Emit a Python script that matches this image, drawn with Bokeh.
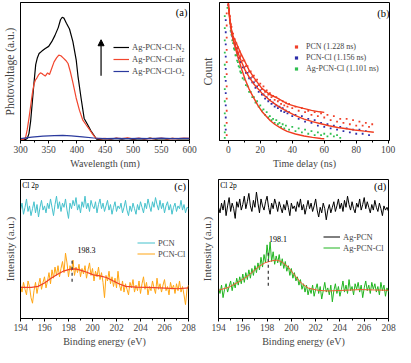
import numpy as np
from bokeh.plotting import figure
from bokeh.layouts import row, column
from bokeh.models import Range1d, Legend, LegendItem, Label, Arrow, NormalHead, FixedTicker
from bokeh.embed import file_html
from bokeh.resources import INLINE

FONT = "Liberation Serif"

# ---------------- panel (a): photovoltage spectra ----------------
a_wl_n2 = [300, 305, 309, 312, 315, 318, 321, 324, 327, 330, 333, 338, 344, 350, 355.5, 361, 367, 371, 374, 377,
           381.5, 387, 393, 399, 402, 407.5, 413, 419, 425, 430.7, 435, 440, 450, 460, 470, 480, 490, 500, 510, 520,
           530, 540, 550, 560, 570, 580, 590, 600]
a_pv_n2 = [0.6, 0.6, 0.8, 1.5, 5, 14, 28, 42, 55, 60, 63, 64.8, 66.7, 68.2, 71.6, 76, 81.8, 87.5, 89.3, 88.7,
           85, 80.8, 71.6, 58, 46.7, 30.8, 16, 11.6, 7, 3.6, 0.9, 0.8, 1.3, 0.9, 1.5, 1.0, 1.6, 0.8, 1.4, 1.0,
           1.7, 0.9, 1.3, 1.0, 1.5, 1.1, 1.4, 1.2]
a_wl_air = [300, 305, 309, 312, 315, 318, 321, 324, 326.7, 329.5, 332, 335.4, 338, 340, 344, 348, 351.5, 355.5, 359.6,
            364, 368, 371.7, 375.7, 380.4, 384.4, 388.4, 393, 398.8, 404.7, 410.4, 416, 422, 427.7, 433.4, 440, 450,
            460, 470, 480, 490, 500, 510, 520, 530, 540, 550, 560, 570, 580, 590, 600]
a_pv_air = [0.8, 0.8, 2, 8, 16, 25, 34, 41, 44, 45.6, 47.5, 49, 48.5, 47.8, 46.7, 49, 47.8, 52.4, 57,
            59.9, 61.9, 61.4, 59.9, 58, 55.8, 50, 42, 30.8, 21.8, 15, 11.6, 8.2, 4.8, 1.8, 1.2, 1.6,
            1.1, 1.8, 1.3, 1.9, 1.2, 1.7, 1.1, 1.6, 1.3, 1.8, 1.2, 1.6, 1.4, 1.8, 1.5]
a_wl_o2 = [300, 320, 340, 360, 375, 390, 410, 430, 450, 470, 490, 510, 530, 550, 570, 590, 600]
a_pv_o2 = [1.4, 2.5, 3.2, 3.6, 3.7, 3.4, 2.6, 1.8, 1.4, 1.6, 1.3, 1.6, 1.4, 1.7, 1.4, 1.6, 1.5]
a_labels = ["Ag-PCN-Cl-N\u2082", "Ag-PCN-Cl-air", "Ag-PCN-Cl-O\u2082"]
a_xticks = [300, 350, 400, 450, 500, 550, 600]
a_xminor = [325, 375, 425, 475, 525, 575]

# ---------------- panel (b): PL decay ----------------
b_t_pcn = [-1.0, -1.0, -1.0, -1.0, -1.0, -1.0, -1.0, -1.0, -1.0, -1.0, -1.0, 0,
           0.5, 1, 1.5, 2, 2.5, 3, 3.5, 4, 4.5, 5, 5.5, 6, 6.5, 7, 7.5, 8, 9, 10, 11, 12, 13, 14, 15, 16, 17, 18,
           19, 20, 21, 22, 23, 24, 25, 26, 27, 28, 29, 30, 31, 32, 33, 34, 35, 36, 37, 38, 40, 42, 44, 46, 48, 50,
           52, 54, 56, 58, 60, 62, 64, 66, 68, 70, 72, 74, 76, 78, 80, 82, 84, 86, 88, 90]
b_c_pcn = [3, 12, 21, 30, 39, 48, 57, 66, 75, 84, 93, 100,
           96, 91, 85, 83, 78, 78, 74, 74, 70, 71, 67, 68, 64, 65, 61, 62, 58, 58, 54, 54, 50, 50, 46, 47, 43, 44,
           40, 41, 37, 39, 35, 36, 33, 34, 31, 32, 29, 31, 28, 29, 26, 28, 25, 27, 24, 26, 23, 24, 21, 23, 20, 21,
           18, 20, 17, 19, 16, 18, 14, 17, 13, 15, 12, 15, 11, 14, 10, 13, 10, 12, 9, 11]
b_t_cl = [-1.6, -1.6, -1.6, -1.6, -1.6, -1.6, -1.6, -1.6, -1.6, -1.6, 0,
          0.5, 1, 1.5, 2, 2.5, 3, 3.5, 4, 4.5, 5, 5.5, 6, 6.5, 7, 7.5, 8, 9, 10, 11, 12, 13, 14, 15, 16, 17, 18,
          19, 20, 21, 22, 23, 24, 25, 26, 27, 28, 29, 30, 31, 32, 33, 34, 35, 36, 37, 38, 40, 42, 44, 46, 48, 50,
          52, 54, 56, 58, 60, 62, 64, 66, 68, 70, 72, 74, 76, 78, 80, 82, 84, 86, 88]
b_c_cl = [7, 16, 25, 34, 43, 52, 61, 70, 79, 88, 99,
          95, 88, 83, 79, 76, 74, 71, 70, 67, 67, 64, 63, 60, 60, 57, 57, 53, 53, 49, 49, 45, 45, 42, 42, 38, 39,
          35, 36, 33, 33, 30, 31, 28, 29, 26, 27, 24, 25, 23, 24, 21, 23, 20, 21, 19, 20, 17, 18, 15, 17, 13, 15,
          12, 14, 10, 12, 9, 11, 8, 10, 7, 9, 6, 8, 5, 7, 4, 7, 4, 6, 3]
b_t_ag = [-2.2, -2.2, -2.2, -2.2, -2.2, -2.2, -2.2, -2.2, -2.2, -2.2, -2.2, -2.2, -0.5,
          0.5, 1, 1.5, 2, 2.5, 3, 3.5, 4, 4.5, 5, 5.5, 6, 6.5, 7, 7.5, 8, 9, 10, 11, 12, 13, 14, 15, 16, 17, 18,
          19, 20, 21, 22, 23, 24, 25, 26, 27, 28, 29, 30, 31, 32, 33, 34, 35, 36, 38, 40, 42, 44, 46, 48, 50, 52,
          54, 56, 58, 60, 62, 64, 66, 68, 70]
b_c_ag = [1, 5, 10, 19, 28, 37, 46, 55, 64, 73, 82, 91, 97,
          93, 86, 80, 77, 73, 71, 67, 66, 62, 62, 58, 57, 54, 53, 50, 49, 45, 44, 40, 39, 35, 35, 31, 31, 27, 28,
          24, 25, 21, 22, 18, 20, 16, 17, 14, 15, 12, 14, 11, 12, 9, 11, 8, 10, 7, 9, 6, 8, 5, 7, 4, 6,
          3, 5, 3, 4, 2, 4, 2, 3, 1]
b_fit_pcn_t = [0, 1, 2, 3, 5, 8, 10.5, 13, 16, 21, 26, 32, 37, 42, 47, 52, 57, 60]
b_fit_pcn_c = [100, 89, 81, 76, 71, 63, 57, 51, 45.5, 37.5, 33, 29.5, 26.1, 24.2, 22.7, 21.3, 20.2, 19.8]
b_fit_cl_t = [0, 1, 2, 3, 5.3, 8, 10.5, 13, 15.8, 21, 26.3, 31.5, 36.8, 42, 47.4, 52.6, 57.9, 63, 68.4, 74, 79, 85, 91]
b_fit_cl_c = [100, 87, 79, 74, 66, 58, 51, 46, 41, 34, 28.4, 24, 20.5, 17.4, 14.8, 13, 11.4, 9.9, 8.6, 7.7, 6.8, 5.9, 5.1]
b_fit_ag_t = [0, 1, 2.1, 3.5, 5.3, 8, 10.5, 13, 15.8, 18.5, 21, 24, 26.3, 29, 31.6, 34, 36.8, 42, 47.4, 52.6, 57.9, 60]
b_fit_ag_c = [100, 88, 79.5, 71, 63.6, 53, 44.3, 37, 30.7, 25, 20.5, 16.5, 13.6, 11, 9.1, 7.4, 5.7, 3.8, 2.3, 1.3, 0.5, 0.3]
b_labels = ["PCN (1.228 ns)", "PCN-Cl (1.156 ns)", "Ag-PCN-Cl (1.101 ns)"]
b_xticks = [0, 20, 40, 60, 80, 100]
b_xminor = [10, 30, 50, 70, 90]

# ---------------- panel (c): Cl 2p XPS, PCN / PCN-Cl ----------------
c_pcn = [78, 83, 75, 80, 86, 77, 81, 74, 79, 84, 76, 82, 73, 80, 85, 78, 81, 76, 83, 79, 86, 80, 74, 82, 88, 79,
         84, 77, 83, 80, 86, 78, 72, 83, 79, 85, 81, 87, 78, 82, 76, 84, 80, 88, 79, 83, 77, 85, 81, 79, 84, 76,
         82, 86, 79, 83, 77, 81, 85, 78, 82, 75, 80, 84, 77, 81, 79, 83, 76, 80, 85, 78, 74, 81, 77, 83, 79, 75,
         82, 78, 84, 80, 76, 83, 79, 86, 81, 77, 84, 80, 87, 82, 78, 85, 79, 83, 76, 81, 84, 78, 82, 75, 80, 83,
         77, 81, 79, 85, 78, 82, 76, 80, 79]
c_pcncl = [24, 19, 26, 21, 17, 27, 23, 15, 11, 20, 26, 18, 24, 29, 21, 26, 30, 22, 27, 33, 25, 35, 29, 37, 31,
           38, 30, 36, 41, 33, 47, 40, 30, 38, 34, 42, 31, 37, 33, 39, 30, 36, 32, 38, 29, 35, 40, 31, 36, 27,
           34, 30, 37, 28, 33, 26, 15, 31, 27, 34, 25, 30, 23, 29, 22, 34, 24, 20, 27, 19, 25, 21, 17, 26, 22,
           28, 19, 24, 20, 27, 18, 25, 30, 21, 26, 17, 23, 20, 27, 22, 18, 29, 21, 25, 19, 24, 28, 20, 23, 17,
           26, 21, 24, 18, 25, 20, 27, 19, 23, 17, 10, 21, 24]
c_fit_e = [194, 194.92, 195.46, 196, 196.55, 197.09, 197.63, 198.17, 198.58, 198.99, 199.53, 200.07, 200.61,
           201.15, 201.7, 202.24, 202.78, 203.6, 204.68, 206.03, 207.1, 208]
c_fit_v = [22.4, 22.4, 23.1, 25.5, 29, 31.9, 34.3, 35.5, 35.7, 34.8, 33.3, 31.4, 30.7, 29.5, 27.1, 24.8, 23.1,
           22.6, 22.4, 21.9, 21.4, 22]
c_peak = 198.3
c_labels = ["PCN", "PCN-Cl"]

# ---------------- panel (d): Cl 2p XPS, Ag-PCN / Ag-PCN-Cl ----------------
d_agpcn = [80, 76, 83, 78, 85, 74, 81, 87, 77, 83, 79, 72, 84, 80, 86, 78, 82, 88, 79, 84, 90, 81, 77, 85, 80,
           91, 83, 76, 86, 81, 78, 84, 88, 80, 75, 83, 79, 86, 82, 77, 84, 80, 76, 82, 78, 85, 80, 74, 83, 79,
           81, 77, 84, 80, 86, 78, 82, 75, 80, 85, 79, 83, 77, 81, 86, 78, 73, 80, 76, 83, 79, 71, 78, 82, 76,
           80, 84, 77, 81, 86, 79, 83, 77, 85, 80, 88, 82, 78, 84, 79, 76, 83, 80, 86, 78, 82, 87, 79, 84, 80,
           76, 82, 78, 85, 80, 77, 83, 79, 74, 81, 78, 80, 77]
d_agpcncl = [22, 18, 24, 15, 21, 25, 19, 23, 27, 20, 26, 22, 29, 24, 30, 25, 32, 26, 33, 28, 35, 29, 36, 31,
             38, 33, 40, 35, 44, 37, 46, 40, 53, 43, 55, 41, 48, 39, 45, 40, 46, 38, 43, 36, 41, 34, 38, 31,
             36, 29, 33, 27, 30, 24, 28, 21, 25, 19, 24, 17, 22, 18, 24, 16, 21, 25, 18, 23, 14, 20, 26, 19,
             22, 17, 24, 12, 20, 25, 18, 23, 16, 21, 27, 19, 24, 18, 28, 20, 23, 17, 25, 21, 26, 19, 24, 15,
             22, 27, 20, 24, 18, 26, 21, 25, 19, 23, 17, 26, 20, 24, 16, 22, 19]
d_fit_e = [194.0, 194.82, 195.64, 196.46, 197.28, 197.83, 198.38, 198.78, 199.19, 199.74, 200.29, 200.83, 201.38,
           202.2, 203.02, 204.39, 205.75, 206.85, 208.0]
d_fit_v = [20.3, 22.4, 26.2, 30.9, 37.1, 40.1, 41.5, 42, 40.9, 37.1, 30.9, 25.4, 21.9, 20.3, 19.8, 20.3, 20.8,
           20.5, 20.3]
d_peak = 198.1
d_labels = ["Ag-PCN", "Ag-PCN-Cl"]
cd_xticks = [194, 196, 198, 200, 202, 204, 206, 208]
cd_xminor = [195, 197, 199, 201, 203, 205, 207]


def make_fig(fw, fh, xr, yr, bl, bt, xticks, xminor, xlabel, ylabel, ysize, ystand):
    p = figure(frame_width=fw, frame_height=fh, x_range=Range1d(*xr), y_range=Range1d(*yr),
               output_backend="svg", toolbar_location=None,
               min_border_left=bl, min_border_right=8, min_border_top=bt, min_border_bottom=30)
    p.grid.visible = False
    p.outline_line_color = "black"
    p.outline_line_width = 1
    p.outline_line_alpha = 1
    p.background_fill_color = "white"
    p.border_fill_color = "white"
    xa = p.xaxis[0]
    xa.ticker = FixedTicker(ticks=xticks, minor_ticks=xminor)
    xa.axis_label = xlabel
    xa.axis_label_text_font = FONT
    xa.axis_label_text_font_size = "10px"
    xa.axis_label_text_font_style = "normal"
    xa.axis_label_standoff = 2
    xa.major_label_text_font = FONT
    xa.major_label_text_font_size = "9.5px"
    xa.major_label_standoff = 2
    xa.major_tick_in = 0
    xa.major_tick_out = 3
    xa.minor_tick_in = 0
    xa.minor_tick_out = 2
    xa.axis_line_color = "black"
    xa.major_tick_line_color = "black"
    xa.minor_tick_line_color = "black"
    ya = p.yaxis[0]
    ya.ticker = FixedTicker(ticks=[], minor_ticks=[])
    ya.major_tick_out = 0
    ya.major_tick_in = 0
    ya.minor_tick_out = 0
    ya.minor_tick_in = 0
    ya.major_tick_line_color = None
    ya.minor_tick_line_color = None
    ya.axis_label = ylabel
    ya.axis_label_text_font = FONT
    ya.axis_label_text_font_size = ysize
    ya.axis_label_text_font_style = "normal"
    ya.axis_label_standoff = ystand
    ya.axis_line_color = "black"
    return p


def add_legend(p, items, x, top, fh, row_h, gw, standoff, fsize):
    n = len(items)
    leg = Legend(items=[LegendItem(label=l, renderers=[r]) for l, r in items],
                 location=(x, fh - top - n * row_h), padding=0, spacing=0, margin=0,
                 glyph_width=gw, glyph_height=row_h, label_height=row_h, label_standoff=standoff,
                 label_text_font=FONT, label_text_font_size=fsize,
                 border_line_color=None, background_fill_alpha=0)
    p.add_layout(leg)


def tag(p, x, y, text, size, align="center", baseline="middle"):
    p.add_layout(Label(x=x, y=y, text=text, text_font=FONT, text_font_size=size,
                       text_align=align, text_baseline=baseline, text_color="black"))


# ----- (a)
FHA = 138
pa = make_fig(169, FHA, (300, 600), (0, 100), 18, 2, a_xticks, a_xminor,
              "Wavelength (nm)", "Photovoltage (a.u.)", "11.5px", 5)
ra1 = pa.line(a_wl_n2, a_pv_n2, line_color="black", line_width=1.2)
ra2 = pa.line(a_wl_air, a_pv_air, line_color="#f2462e", line_width=1.2)
ra3 = pa.line(a_wl_o2, a_pv_o2, line_color="#2b3a9e", line_width=1.2)
add_legend(pa, list(zip(a_labels, [ra1, ra2, ra3])), 93, 39, FHA, 12, 16, 3, "8.5px")
pa.add_layout(Arrow(end=NormalHead(size=6, fill_color="black", line_color="black"),
                    x_start=443, y_start=47, x_end=443, y_end=73, line_width=1.2, line_color="black"))
tag(pa, 586, 93, "(a)", "10.5px")

# ----- (b)
FHB = 138
pb = make_fig(170, FHB, (-5.5, 100.8), (-1, 101), 22, 2, b_xticks, b_xminor,
              "Time delay (ns)", "Count", "11.5px", 6)
rb1 = pb.scatter(b_t_pcn, b_c_pcn, marker="square", size=1.8, fill_color="#f0402a", line_color=None)
rb2 = pb.scatter(b_t_cl, b_c_cl, marker="square", size=1.8, fill_color="#2d2da8", line_color=None)
rb3 = pb.scatter(b_t_ag, b_c_ag, marker="square", size=1.8, fill_color="#2fbf50", line_color=None)
pb.line(b_fit_pcn_t, b_fit_pcn_c, line_color="#f03c20", line_width=1.4)
pb.line(b_fit_cl_t, b_fit_cl_c, line_color="#f03c20", line_width=1.4)
pb.line(b_fit_ag_t, b_fit_ag_c, line_color="#f03c20", line_width=1.4)
add_legend(pb, list(zip(b_labels, [rb1, rb2, rb3])), 73, 39, FHB, 11, 8, 6, "8px")
tag(pb, 97, 93, "(b)", "10.5px")

# ----- (c)
FHC = 139
pc = make_fig(168, FHC, (194, 208), (0, 100), 19, 8, cd_xticks, cd_xminor,
              "Binding energy (eV)", "Intensity (a.u.)", "11px", 5)
c_e1 = np.linspace(194, 208, len(c_pcn))
c_e2 = np.linspace(194, 208, len(c_pcncl))
rc1 = pc.line(c_e1, c_pcn, line_color="#45c1cc", line_width=1.0)
rc2 = pc.line(c_e2, c_pcncl, line_color="#ffa514", line_width=1.0)
pc.line(c_fit_e, c_fit_v, line_color="#f0402a", line_width=1.2)
pc.segment(x0=[c_peak], y0=[26.5], x1=[c_peak], y1=[42], line_color="#333333", line_width=1.2, line_dash="3 3")
tag(pc, c_peak + 1.2, 49, str(c_peak), "8px")
add_legend(pc, list(zip(c_labels, [rc1, rc2])), 117, 58, FHC, 11, 18, 3, "8.5px")
tag(pc, 194.15, 99, "Cl 2p", "7.5px", align="left", baseline="top")
tag(pc, 207.3, 95, "(c)", "10.5px")

# ----- (d)
FHD = 139
pd_ = make_fig(170, FHD, (194, 208), (0, 100), 22, 8, cd_xticks, cd_xminor,
               "Binding energy (eV)", "Intensity (a.u.)", "11px", 6)
d_e1 = np.linspace(194, 208, len(d_agpcn))
d_e2 = np.linspace(194, 208, len(d_agpcncl))
rd1 = pd_.line(d_e1, d_agpcn, line_color="black", line_width=1.0)
rd2 = pd_.line(d_e2, d_agpcncl, line_color="#21b521", line_width=1.0)
pd_.line(d_fit_e, d_fit_v, line_color="#f05a30", line_width=1.0)
pd_.segment(x0=[d_peak], y0=[23.5], x1=[d_peak], y1=[48], line_color="#333333", line_width=1.2, line_dash="3 3")
tag(pd_, d_peak + 0.8, 57.5, str(d_peak), "8px")
add_legend(pd_, list(zip(d_labels, [rd1, rd2])), 105, 52, FHD, 11, 17, 3, "8.5px")
tag(pd_, 194.15, 99, "Cl 2p", "7.5px", align="left", baseline="top")
tag(pd_, 207.3, 95, "(d)", "10.5px")

layout = column(row(pa, pb), row(pc, pd_))
open("out.html", "w").write(file_html(layout, INLINE))
